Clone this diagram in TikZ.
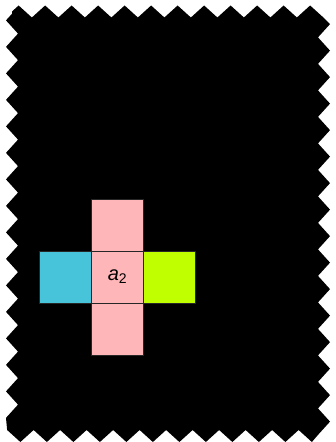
\documentclass[tikz,border=0pt]{standalone}
\usepackage{fontspec}
\setmainfont{Liberation Sans}
\usetikzlibrary{positioning,decorations.pathmorphing}

\definecolor{facepink}{RGB}{255,182,184}
\definecolor{facecyan}{RGB}{71,196,218}
\definecolor{facelime}{RGB}{192,255,0}

\tikzset{
    face/.style={draw=black!85, line width=0.6pt, minimum size=52pt,
        inner sep=0pt, outer sep=0pt, font=\fontsize{20}{24}\selectfont},
    jagged/.style={decorate, decoration={zigzag, segment length=26.5pt, amplitude=6pt}}
}

\begin{document}
\begin{tikzpicture}[x=1pt, y=1pt]
        \useasboundingbox (0,0) rectangle (335,442);

        % hintergrund mit zacken
        \fill[black, jagged] (12,430.5) -- (324,430.5) -- (324,6) -- (12,6) -- cycle;

        % netz
        \node[face, fill=facepink] (mid) at (117.5,165) {\textit{a}\textsubscript{2}};
        \node[face, fill=facepink, above=0pt of mid] (top) {};
        \node[face, fill=facepink, below=0pt of mid] (bottom) {};
        \node[face, fill=facecyan, left=0pt of mid] (left) {};
        \node[face, fill=facelime, right=0pt of mid] (right) {};

\end{tikzpicture}
\end{document}
